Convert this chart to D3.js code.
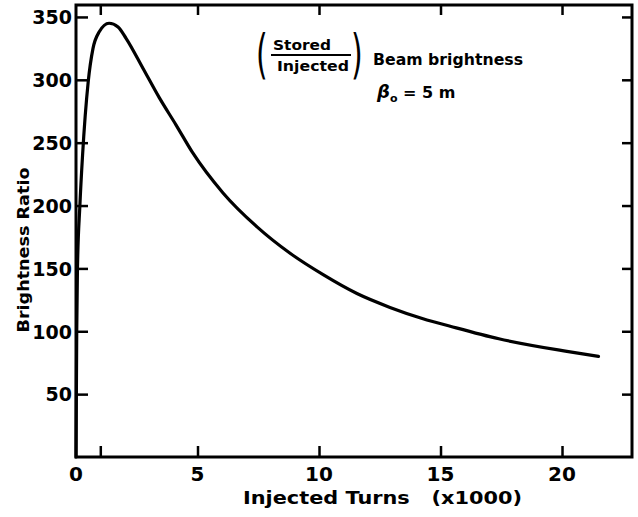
<!DOCTYPE html>
<html><head><meta charset="utf-8">
<script src="https://cdn.jsdelivr.net/npm/d3@7"></script>
<style>body{margin:0;background:#fff}svg{display:block}</style>
</head><body>
<script>
const turns = [0, 0.03, 0.06, 0.16, 0.27, 0.5, 0.7, 0.95, 1.36, 1.73, 2.06, 2.76, 3.42, 4.12, 4.8, 6.05, 7.45, 8.81, 10.17, 11.56, 12.92, 14.28, 15.4, 17.4, 20.2, 21.5];
const ratio = [0, 100, 150, 200, 240, 298, 325, 338, 345, 342, 333, 309, 286, 264, 242, 210, 183, 162, 145, 130, 119, 110, 104, 94, 84, 80];
const xTicks = [1, 5, 10, 15, 20];
const xLabels = [0, 5, 10, 15, 20];
const yTicks = [50, 100, 150, 200, 250, 300, 350];

const W = 638, H = 517;
const L = 76, R = 632, T = 5, B = 457;
const FONT = "'DejaVu Sans', sans-serif";

const svg = d3.select("body").append("svg").attr("width", W).attr("height", H);
const x = d3.scaleLinear().domain([0, 22.88]).range([L, R]);
const y = d3.scaleLinear().domain([0, 359.5]).range([B, T]);

// frame
svg.append("rect").attr("x", L).attr("y", T).attr("width", R - L).attr("height", B - T)
  .attr("fill", "none").attr("stroke", "#000").attr("stroke-width", 3);

// bottom axis ticks (inward) + labels
const bx = svg.append("g").attr("transform", `translate(0,${B})`)
  .call(d3.axisBottom(x).tickValues(xTicks).tickSizeInner(-11).tickSizeOuter(0).tickFormat(""));
bx.select(".domain").remove();
bx.selectAll("line").attr("stroke-width", 2.5);
svg.append("g").selectAll("text").data(xLabels).join("text")
  .attr("x", d => x(d)).attr("y", 481).attr("text-anchor", "middle")
  .attr("font-family", FONT).attr("font-weight", "bold").attr("font-size", 20)
  .text(d => d);

// top ticks
const tx = svg.append("g").attr("transform", `translate(0,${T})`)
  .call(d3.axisTop(x).tickValues(xTicks).tickSizeInner(-10).tickSizeOuter(0).tickFormat(""));
tx.select(".domain").remove();
tx.selectAll("line").attr("stroke-width", 2.5);

// left axis
const ly = svg.append("g").attr("transform", `translate(${L},0)`)
  .call(d3.axisLeft(y).tickValues(yTicks).tickSizeInner(-12).tickSizeOuter(0).tickPadding(4));
ly.select(".domain").remove();
ly.selectAll("line").attr("stroke-width", 2.5);
ly.selectAll("text").attr("font-family", FONT).attr("font-weight", "bold").attr("font-size", 19)
  .attr("fill", "#000").attr("dy", "0.36em");

// right ticks
const ry = svg.append("g").attr("transform", `translate(${R},0)`)
  .call(d3.axisRight(y).tickValues(yTicks).tickSizeInner(-10).tickSizeOuter(0).tickFormat(""));
ry.select(".domain").remove();
ry.selectAll("line").attr("stroke-width", 2.5);

// curve
const pts = turns.map((t, i) => [t, ratio[i]]);
svg.append("path").datum(pts)
  .attr("fill", "none").attr("stroke", "#000").attr("stroke-width", 3.2)
  .attr("stroke-linejoin", "round").attr("stroke-linecap", "round")
  .attr("d", d3.line().x(d => x(d[0])).y(d => y(d[1])).curve(d3.curveMonotoneX));

// axis titles
svg.append("text").attr("x", 243).attr("y", 504)
  .attr("font-family", FONT).attr("font-weight", "bold").attr("font-size", 17)
  .attr("textLength", 279).attr("lengthAdjust", "spacingAndGlyphs")
  .attr("xml:space", "preserve")
  .text("Injected Turns   (x1000)");
svg.append("text").attr("transform", "translate(29,250) rotate(-90)")
  .attr("text-anchor", "middle")
  .attr("font-family", FONT).attr("font-weight", "bold").attr("font-size", 16)
  .attr("textLength", 165).attr("lengthAdjust", "spacingAndGlyphs")
  .text("Brightness Ratio");

// annotation
const ann = svg.append("g").attr("font-family", FONT).attr("fill", "#000");
ann.append("text").attr("transform", "translate(256,73) scale(1,1.75)")
  .attr("font-size", 30).attr("font-weight", "normal").text("(");
ann.append("text").attr("transform", "translate(351,73) scale(1,1.75)")
  .attr("font-size", 30).attr("font-weight", "normal").text(")");
ann.append("text").attr("x", 273).attr("y", 50).attr("font-size", 14).attr("font-weight", "bold")
  .attr("textLength", 58).attr("lengthAdjust", "spacingAndGlyphs").text("Stored");
ann.append("line").attr("x1", 271).attr("x2", 351).attr("y1", 55).attr("y2", 55)
  .attr("stroke", "#000").attr("stroke-width", 2);
ann.append("text").attr("x", 277).attr("y", 71).attr("font-size", 14).attr("font-weight", "bold")
  .attr("textLength", 72).attr("lengthAdjust", "spacingAndGlyphs").text("Injected");
ann.append("text").attr("x", 373).attr("y", 65).attr("font-size", 15).attr("font-weight", "bold")
  .attr("textLength", 150).attr("lengthAdjust", "spacingAndGlyphs").text("Beam brightness");
const bt = ann.append("text").attr("x", 377).attr("y", 98).attr("font-size", 18).attr("font-weight", "bold");
bt.append("tspan").attr("font-style", "italic").text("β");
bt.append("tspan").attr("font-size", 11).attr("dy", 4).text("o");
bt.append("tspan").attr("dy", -4).attr("font-size", 16).text(" = 5 m");
</script>
</body></html>
